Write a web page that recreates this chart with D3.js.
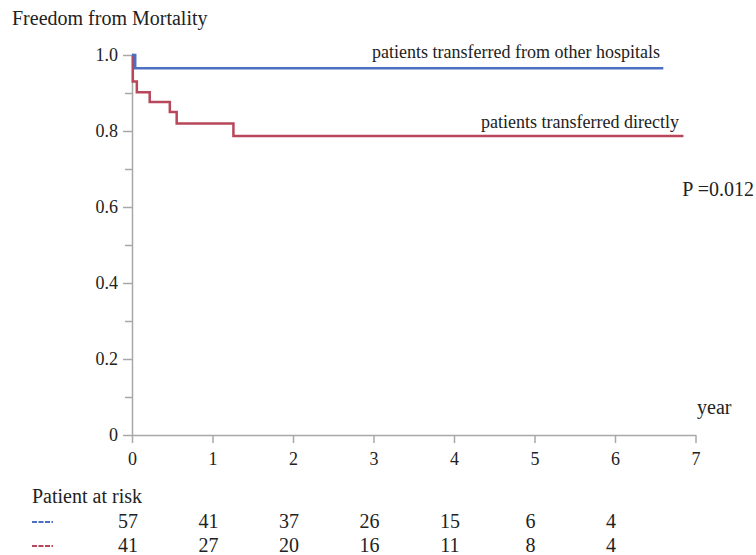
<!DOCTYPE html>
<html>
<head>
<meta charset="utf-8">
<script src="https://cdn.jsdelivr.net/npm/d3@7/dist/d3.min.js"></script>
<style>
  body { margin: 0; background: #fff; }
  .axis path, .axis line { stroke: #a8a8a8; stroke-width: 1.5; }
</style>
</head>
<body>
<div id="container"></div>
<script>
// Kaplan-Meier steps
const blueTimes = [0, 0.04, 6.6];
const blueSurv = [1, 0.965, 0.965];
const redTimes = [0, 0.01, 0.06, 0.22, 0.47, 0.555, 1.26, 6.85];
const redSurv = [1, 0.93, 0.902, 0.876, 0.85, 0.82, 0.787, 0.787];

const xTicks = [0, 1, 2, 3, 4, 5, 6, 7];
const yTicks = [0, 0.2, 0.4, 0.6, 0.8, 1.0];
const yMinorTicks = [0.1, 0.3, 0.5, 0.7, 0.9];

const atRiskBlue = [57, 41, 37, 26, 15, 6, 4];
const atRiskRed = [41, 27, 20, 16, 11, 8, 4];

const blueColor = '#4d6fc2';
const redColor = '#b8475b';
const FONT = "'Liberation Serif', 'Times New Roman', Times, serif";

const W = 756, H = 555;
const margin = { top: 55, left: 132 };
const width = 563.5, height = 380;

const svg = d3.select('#container').append('svg')
  .attr('width', W)
  .attr('height', H)
  .attr('font-family', FONT);

const x = d3.scaleLinear().domain([0, 7]).range([margin.left, margin.left + width]);
const y = d3.scaleLinear().domain([0, 1]).range([margin.top + height, margin.top]);

// axes
svg.append('g')
  .attr('class', 'axis')
  .attr('transform', `translate(${margin.left},0)`)
  .call(d3.axisLeft(y).tickValues(yMinorTicks).tickSize(7).tickFormat(''))
  .call(g => g.select('.domain').remove());

const yAxis = svg.append('g')
  .attr('class', 'axis')
  .attr('transform', `translate(${margin.left},0)`)
  .call(d3.axisLeft(y).tickValues(yTicks).tickSize(9).tickSizeOuter(0).tickPadding(5)
    .tickFormat(d => d === 0 ? '0' : d.toFixed(1)));

const xAxis = svg.append('g')
  .attr('class', 'axis')
  .attr('transform', `translate(0,${margin.top + height})`)
  .call(d3.axisBottom(x).tickValues(xTicks).tickSize(8).tickSizeOuter(0).tickPadding(9).tickFormat(d3.format('d')));

[yAxis, xAxis].forEach(g => g
  .attr('font-family', FONT)
  .attr('font-size', 18)
  .selectAll('text')
  .attr('font-family', FONT)
  .attr('fill', '#222'));

// survival curves
const line = d3.line()
  .x(d => x(d[0]))
  .y(d => y(d[1]))
  .curve(d3.curveStepAfter);

svg.append('path')
  .datum(redTimes.map((t, i) => [t, redSurv[i]]))
  .attr('d', line)
  .attr('fill', 'none')
  .attr('stroke', redColor)
  .attr('stroke-width', 2.5);

svg.append('path')
  .datum(blueTimes.map((t, i) => [t, blueSurv[i]]))
  .attr('d', line)
  .attr('fill', 'none')
  .attr('stroke', blueColor)
  .attr('stroke-width', 2.5);

// texts
const txt = (tx, ty, s, size, anchor) => svg.append('text')
  .attr('x', tx).attr('y', ty)
  .attr('font-family', FONT)
  .attr('font-size', size)
  .attr('fill', '#222')
  .attr('text-anchor', anchor || 'start')
  .text(s);

txt(12, 25, 'Freedom from Mortality', 20);
txt(660, 58, 'patients transferred from other hospitals', 18, 'end');
txt(679, 128, 'patients transferred directly', 18, 'end');
txt(754, 196, 'P =0.012', 20, 'end');
txt(697, 414, 'year', 20);
txt(32, 503, 'Patient at risk', 20);

// at-risk table
const rows = [
  { color: blueColor, values: atRiskBlue, y: 528 },
  { color: redColor, values: atRiskRed, y: 552 }
];
rows.forEach(r => {
  svg.append('line')
    .attr('x1', 32).attr('x2', 53)
    .attr('y1', r.y - 6).attr('y2', r.y - 6)
    .attr('stroke', r.color)
    .attr('stroke-width', 1.8)
    .attr('stroke-dasharray', '5,1.5');
  svg.append('g').selectAll('text')
    .data(r.values).enter()
    .append('text')
    .attr('x', (d, i) => x(i) - 4)
    .attr('y', r.y)
    .attr('font-family', FONT)
    .attr('font-size', 20)
    .attr('fill', '#222')
    .attr('text-anchor', 'middle')
    .text(d => d);
});
</script>
</body>
</html>
